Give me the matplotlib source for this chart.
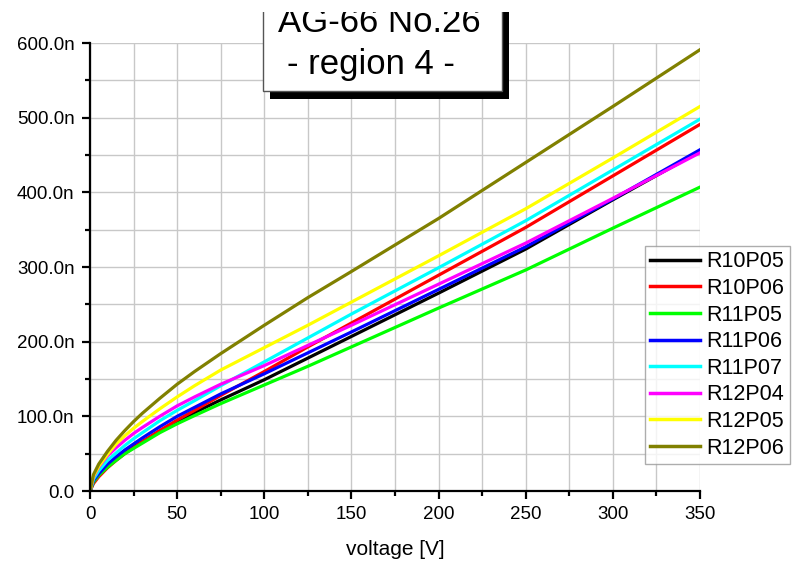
import numpy as np
import matplotlib
matplotlib.use("Agg")
import matplotlib.pyplot as plt
from matplotlib.patches import Rectangle
from matplotlib.ticker import MultipleLocator, FuncFormatter

plt.rcParams["font.family"] = ["Liberation Sans", "DejaVu Sans"]

# leakage current [nA] vs bias voltage [V]
voltage = [0, 2, 5, 10, 15, 20, 25, 30, 40, 50, 60, 75, 100, 125, 150, 200, 250, 300, 350]

r10p05 = [0, 12, 21, 33, 42, 51, 59, 66, 80, 93, 105, 122, 149, 178, 207, 265, 324, 390, 455]
r10p06 = [0, 10, 19, 31, 41, 50, 58, 66, 81, 95, 108, 128, 160, 193, 225, 289, 353, 422, 491]
r11p05 = [0, 12, 21, 32, 41, 50, 57, 64, 78, 90, 101, 117, 142, 167, 193, 245, 296, 352, 407]
r11p06 = [0, 14, 23, 36, 46, 55, 63, 71, 86, 100, 112, 130, 157, 185, 213, 270, 327, 391, 457]
r11p07 = [0, 16, 27, 41, 51, 61, 70, 78, 94, 108, 121, 141, 173, 205, 237, 299, 362, 430, 498]
r12p04 = [0, 19, 32, 47, 58, 68, 77, 85, 100, 114, 126, 143, 168, 195, 222, 277, 332, 392, 453]
r12p05 = [0, 20, 33, 49, 63, 74, 84, 93, 110, 126, 141, 162, 192, 222, 253, 315, 378, 446, 515]
r12p06 = [0, 22, 36, 53, 68, 81, 93, 104, 124, 143, 160, 184, 222, 259, 294, 365, 440, 515, 591]

labels = ["R10P05", "R10P06", "R11P05", "R11P06", "R11P07", "R12P04", "R12P05", "R12P06"]
colors = ["#000000", "#ff0000", "#00ff00", "#0000ff", "#00ffff", "#ff00ff", "#ffff00", "#808000"]
series = [r10p05, r10p06, r11p05, r11p06, r11p07, r12p04, r12p05, r12p06]

W, H = 794, 564
fig = plt.figure(figsize=(W / 100, H / 100), dpi=100)
ax = fig.add_axes([90 / W, 1 - 491 / H, 610 / W, 448 / H])


def fx(px):
    return px / W


def fy(py):
    return 1 - py / H


for y, c, lab in zip(series, colors, labels):
    ax.plot(voltage, y, color=c, lw=2.3, label=lab, solid_joinstyle="round")

ax.set_xlim(0, 350)
ax.set_ylim(0, 600)
ax.xaxis.set_major_locator(MultipleLocator(50))
ax.xaxis.set_minor_locator(MultipleLocator(25))
ax.yaxis.set_major_locator(MultipleLocator(100))
ax.yaxis.set_minor_locator(MultipleLocator(50))
ax.yaxis.set_major_formatter(FuncFormatter(lambda v, p: "0.0" if v == 0 else "%.1fn" % v))
ax.grid(True, which="both", color="#c8c8c8", lw=1.0)
ax.set_axisbelow(True)

for s in ["top", "right"]:
    ax.spines[s].set_visible(False)
for s in ["left", "bottom"]:
    ax.spines[s].set_linewidth(1.6)
ax.tick_params(which="major", direction="out", length=6, width=1.6, labelsize=13.5, pad=5)
ax.tick_params(which="minor", direction="out", length=3.5, width=1.6)
ax.set_xlabel("voltage [V]", fontsize=15, labelpad=12)

leg = fig.legend(loc="upper left", bbox_to_anchor=(fx(645), fy(246)),
                 bbox_transform=fig.transFigure, fontsize=15.5, frameon=True,
                 fancybox=False, borderaxespad=0, handlelength=2.3,
                 handletextpad=0.3, labelspacing=0.26, borderpad=0.25)
leg.get_frame().set_edgecolor("#999999")
leg.get_frame().set_linewidth(1.0)
for h in leg.get_lines():
    h.set_linewidth(2.5)

# title box with drop shadow
fig.add_artist(Rectangle((fx(270), fy(99)), (502 - 263) / W, (99 + 10) / H,
                         transform=fig.transFigure, facecolor="black",
                         edgecolor="none", zorder=5))
fig.add_artist(Rectangle((fx(263), fy(91)), (502 - 263) / W, (91 + 10) / H,
                         transform=fig.transFigure, facecolor="white",
                         edgecolor="#555555", lw=1.0, zorder=6))
fig.text(fx(278), fy(32), "AG-66 No.26", fontsize=25, ha="left",
         va="baseline", zorder=7)
fig.text(fx(287), fy(74), "- region 4 -", fontsize=25, ha="left",
         va="baseline", zorder=7)
fig.add_artist(Rectangle((0, fy(12)), 1, 12 / H, transform=fig.transFigure,
                         facecolor="white", edgecolor="none", zorder=10))

fig.savefig("out.png", dpi=100)
